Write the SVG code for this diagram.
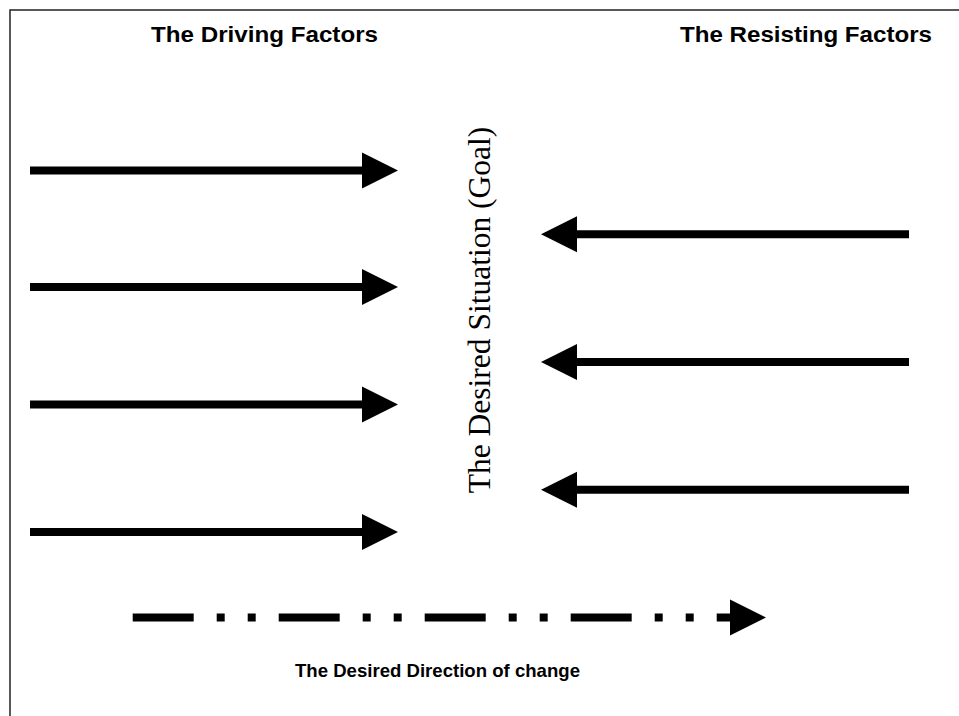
<svg xmlns="http://www.w3.org/2000/svg" width="959" height="716" viewBox="0 0 959 716">
  <style>
    .frame { fill: none; stroke: #222; stroke-width: 1.5; }
    .title { font-family: "Liberation Sans", Arial, sans-serif; font-weight: bold; font-size: 22px; fill: #000; }
    .goal { font-family: "Liberation Serif", "Times New Roman", serif; font-size: 31.5px; fill: #000; }
    .caption { font-family: "Liberation Sans", Arial, sans-serif; font-weight: bold; font-size: 19px; fill: #000; }
    .force { stroke: #000; stroke-width: 8; fill: none; stroke-linecap: butt; marker-end: url(#head); }
    .change { stroke: #000; stroke-width: 8; fill: none; stroke-linecap: butt; stroke-dasharray: 61 23 8 23 8 23; marker-end: url(#head); }
  </style>
  <defs>
    <marker id="head" markerUnits="userSpaceOnUse" markerWidth="36" markerHeight="36" viewBox="0 -18 36 36" refX="0" refY="0" orient="auto" overflow="visible">
      <polygon points="0,-18 36,0 0,18" fill="#000"/>
    </marker>
  </defs>
  <rect x="0" y="0" width="959" height="716" fill="#fff"/>
  <path class="frame" d="M10,716 V10 H959"/>

  <g id="label-driving">
    <text class="title" x="151" y="42" textLength="227" lengthAdjust="spacingAndGlyphs">The Driving Factors</text>
  </g>
  <g id="label-resisting">
    <text class="title" x="680" y="42" textLength="252" lengthAdjust="spacingAndGlyphs">The Resisting Factors</text>
  </g>
  <g id="goal">
    <text class="goal" transform="translate(490,310) rotate(-90)" text-anchor="middle">The Desired Situation (Goal)</text>
  </g>
  <g id="label-direction">
    <text class="caption" x="295" y="677" textLength="285" lengthAdjust="spacingAndGlyphs">The Desired Direction of change</text>
  </g>

  <g id="connectors">
    <line class="force" x1="30" y1="170.5" x2="362" y2="170.5"/>
    <line class="force" x1="30" y1="287" x2="362" y2="287"/>
    <line class="force" x1="30" y1="404.5" x2="362" y2="404.5"/>
    <line class="force" x1="30" y1="532" x2="362" y2="532"/>
    <line class="force" x1="909" y1="234.3" x2="577" y2="234.3"/>
    <line class="force" x1="909" y1="362" x2="577" y2="362"/>
    <line class="force" x1="909" y1="489.7" x2="577" y2="489.7"/>
    <line class="change" x1="132.7" y1="617.5" x2="730" y2="617.5"/>
  </g>
</svg>
